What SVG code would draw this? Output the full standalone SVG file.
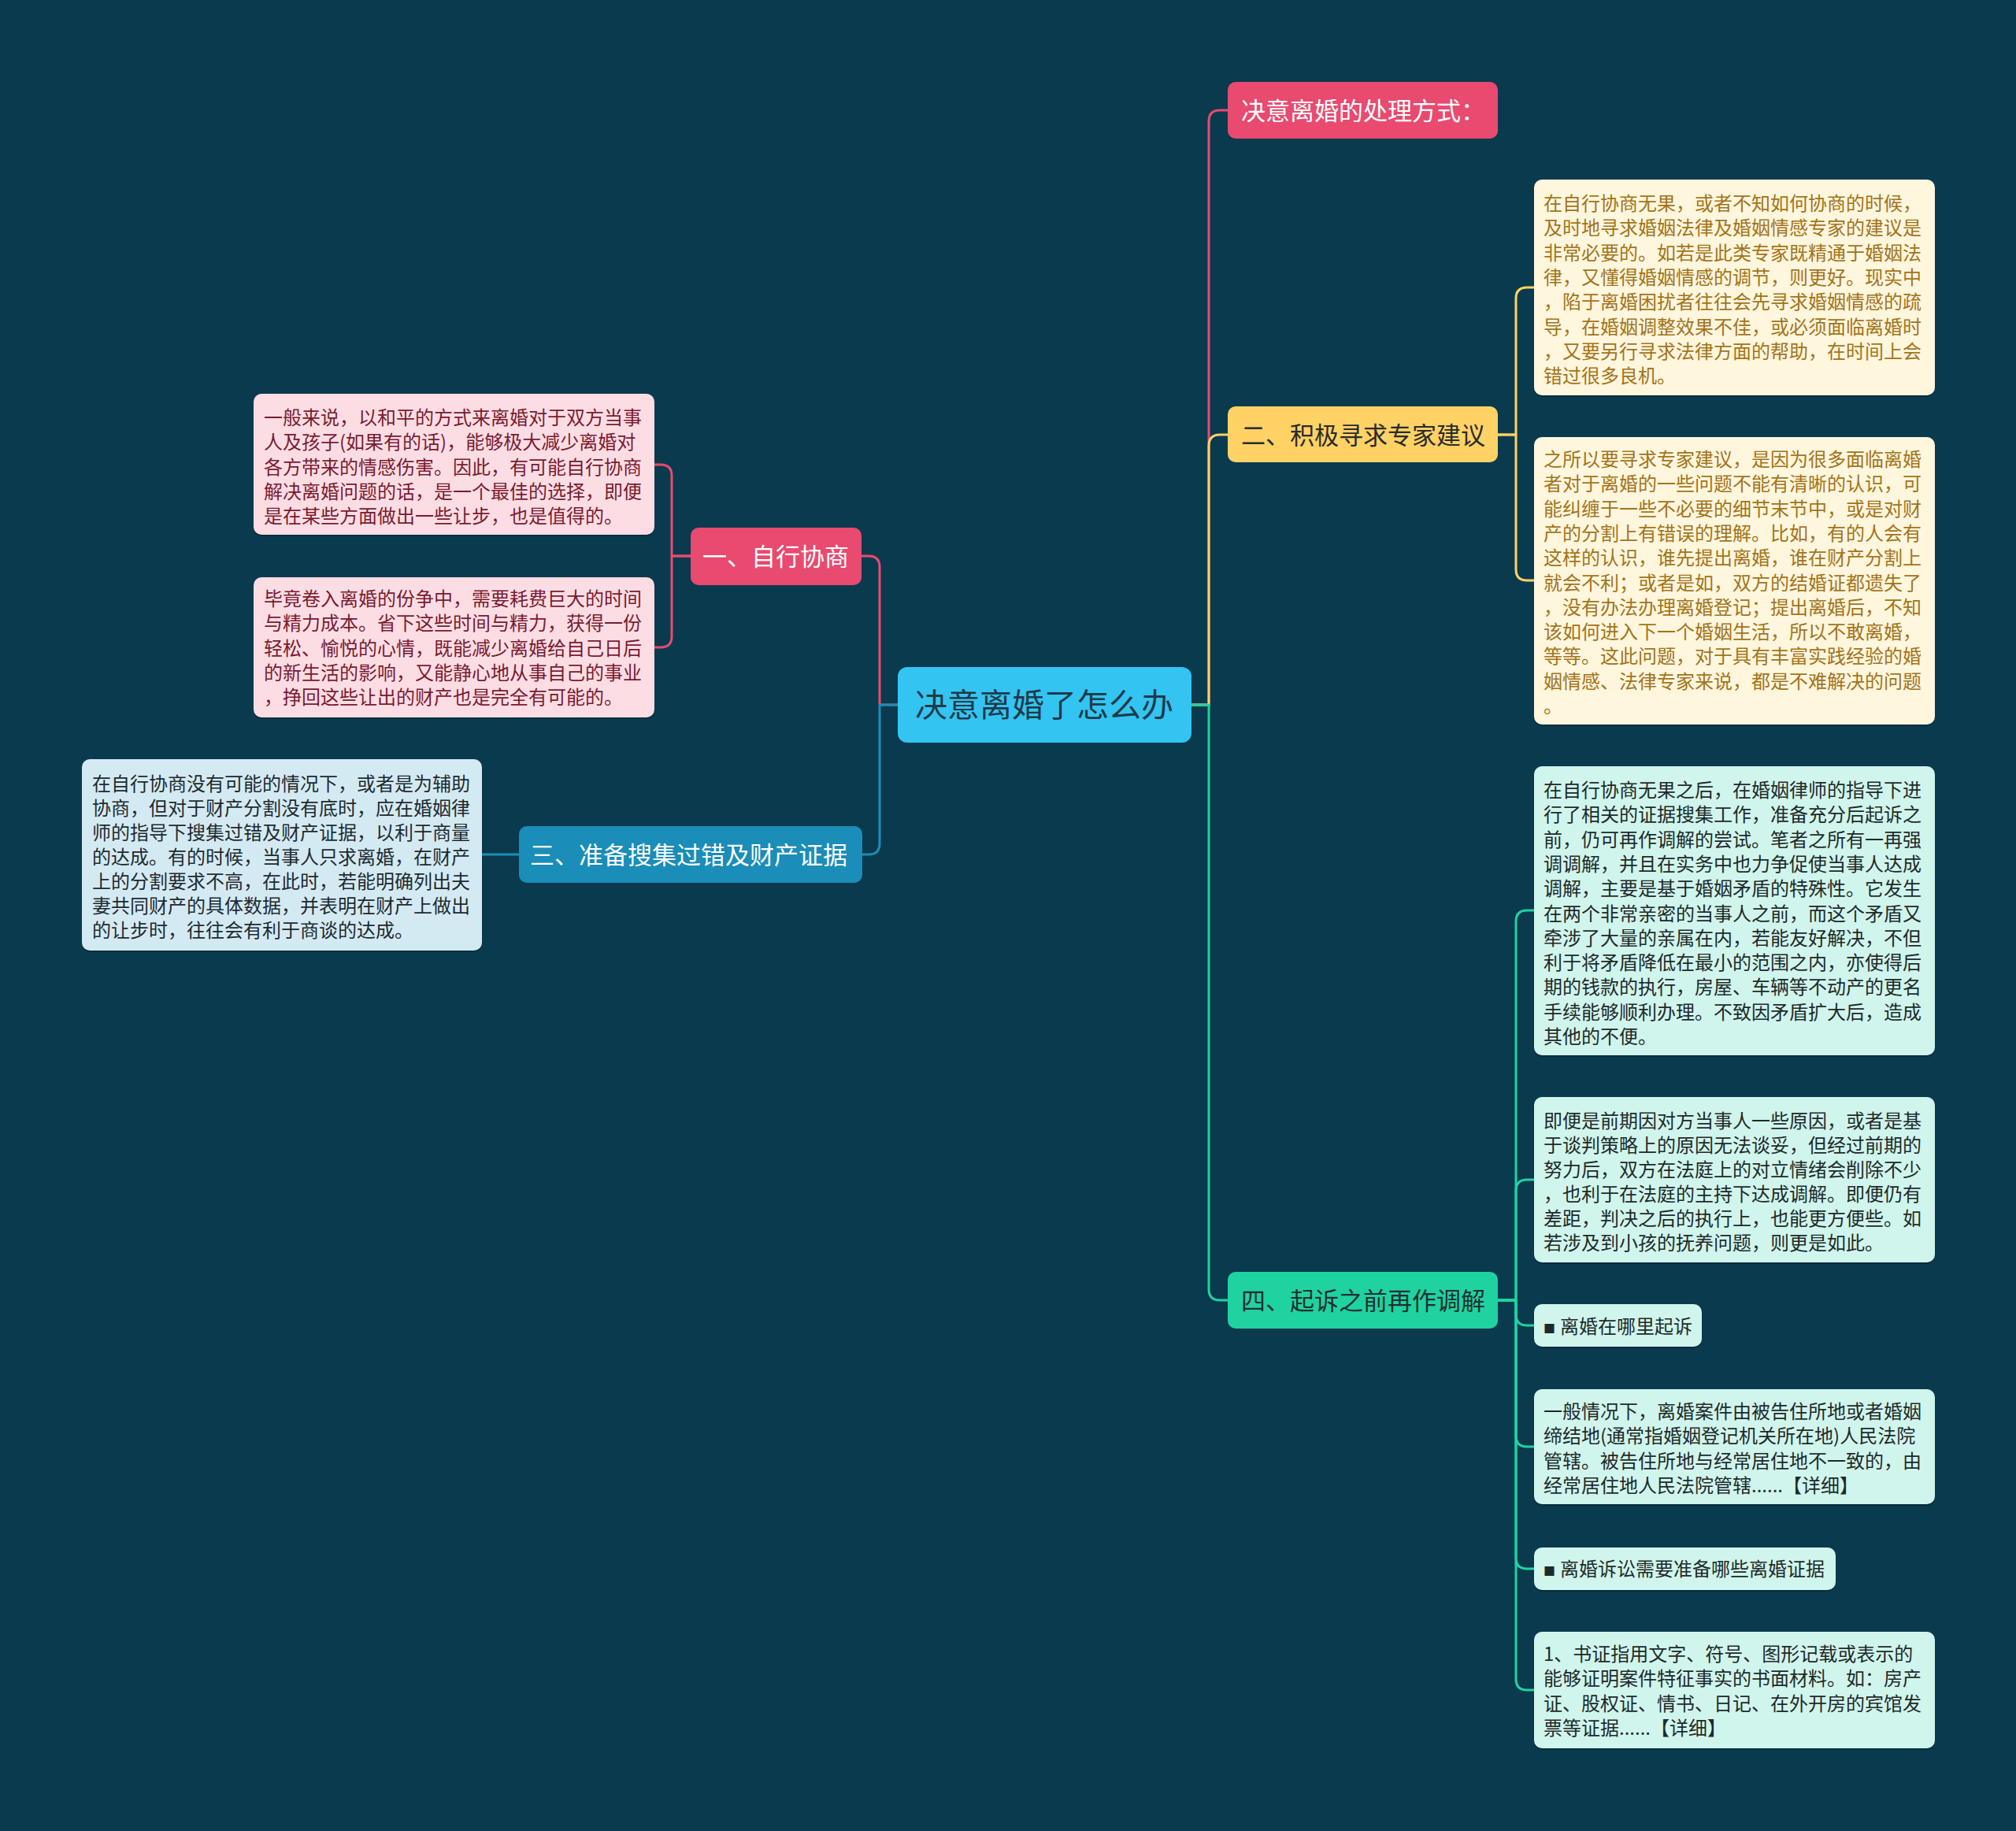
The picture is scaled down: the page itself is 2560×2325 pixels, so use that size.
<svg xmlns="http://www.w3.org/2000/svg" width="2560" height="2325" viewBox="0 0 2560 2325">
<style>
.t{font-family:"Noto Sans CJK SC","Noto Sans",sans-serif}
.d{font-size:24px}
.b{font-size:31px}
.c{fill:none;stroke-width:3;stroke-linejoin:round}
.sh{fill:#000;opacity:0.22}
</style>
<rect x="0" y="0" width="2560" height="2325" fill="#0A3A4E"/>
<g id="connectors">
  <path class="c" stroke="#E94A6F" d="M1513,895 H1535 V154 Q1535,140 1549,140 H1559"/>
  <path class="c" stroke="#FFD265" d="M1513,895 H1535 V566 Q1535,552 1549,552 H1559"/>
  <path class="c" stroke="#1FD3A0" d="M1513,895 H1535 V1637 Q1535,1651 1549,1651 H1559"/>
  <path class="c" stroke="#E94A6F" d="M1140,895 H1117 V720 Q1117,706 1103,706 H1094"/>
  <path class="c" stroke="#1A8DB8" d="M1140,895 H1117 V1071 Q1117,1085 1103,1085 H1095"/>
  <path class="c" stroke="#E94A6F" d="M877,706 H853 V604 Q853,590 839,590 H831"/>
  <path class="c" stroke="#E94A6F" d="M877,706 H853 V808 Q853,822 839,822 H831"/>
  <path class="c" stroke="#1A8DB8" d="M659,1085 H612"/>
  <path class="c" stroke="#FFD265" d="M1902,552 H1925 V379 Q1925,365 1939,365 H1948"/>
  <path class="c" stroke="#FFD265" d="M1902,552 H1925 V723 Q1925,737 1939,737 H1948"/>
  <path class="c" stroke="#1FD3A0" d="M1902,1651 H1925 V1170 Q1925,1156 1939,1156 H1948"/>
  <path class="c" stroke="#1FD3A0" d="M1902,1651 H1925 V1512 Q1925,1498 1939,1498 H1948"/>
  <path class="c" stroke="#1FD3A0" d="M1902,1651 H1925 V1669 Q1925,1683 1939,1683 H1948"/>
  <path class="c" stroke="#1FD3A0" d="M1902,1651 H1925 V1823 Q1925,1837 1939,1837 H1948"/>
  <path class="c" stroke="#1FD3A0" d="M1902,1651 H1925 V1978 Q1925,1992 1939,1992 H1948"/>
  <path class="c" stroke="#1FD3A0" d="M1902,1651 H1925 V2132 Q1925,2146 1939,2146 H1948"/>
</g>
<g id="center">
  <rect x="1140" y="847" width="373" height="96" rx="12" fill="#33C4F2"/>
  <text class="t" x="1162" y="910" font-size="41" fill="#1E3A48">决意离婚了怎么办</text>
</g>
<g id="title">
  <rect x="1559" y="104" width="343" height="72" rx="10" fill="#E94A6F"/>
  <text class="t b" x="1576" y="152" fill="#FFFFFF">决意离婚的处理方式：</text>
</g>
<g id="n2">
  <rect x="1559" y="516" width="343" height="71" rx="10" fill="#FFD265"/>
  <text class="t b" x="1576" y="564" fill="#2A2A2A">二、积极寻求专家建议</text>
</g>
<g id="n4">
  <rect x="1559" y="1615" width="343" height="72" rx="10" fill="#1FD3A0"/>
  <text class="t b" x="1576" y="1663" fill="#1F2F2F">四、起诉之前再作调解</text>
</g>
<g id="n1">
  <rect x="877" y="670" width="217" height="73" rx="10" fill="#E94A6F"/>
  <text class="t b" x="892" y="718" fill="#FFFFFF">一、自行协商</text>
</g>
<g id="n3">
  <rect x="659" y="1049" width="436" height="72" rx="10" fill="#1A8DB8"/>
  <text class="t b" x="673" y="1097" fill="#FFFFFF">三、准备搜集过错及财产证据</text>
</g>
<g id="boxA">
  <rect class="sh" x="1948" y="230" width="509" height="274" rx="10"/>
  <rect x="1948" y="228" width="509" height="274" rx="10" fill="#FEF6DD"/>
  <text class="t d" fill="#A3741A">
    <tspan x="1960" y="267">在自行协商无果，或者不知如何协商的时候，</tspan>
    <tspan x="1960" dy="31.3">及时地寻求婚姻法律及婚姻情感专家的建议是</tspan>
    <tspan x="1960" dy="31.3">非常必要的。如若是此类专家既精通于婚姻法</tspan>
    <tspan x="1960" dy="31.3">律，又懂得婚姻情感的调节，则更好。现实中</tspan>
    <tspan x="1960" dy="31.3">，陷于离婚困扰者往往会先寻求婚姻情感的疏</tspan>
    <tspan x="1960" dy="31.3">导，在婚姻调整效果不佳，或必须面临离婚时</tspan>
    <tspan x="1960" dy="31.3">，又要另行寻求法律方面的帮助，在时间上会</tspan>
    <tspan x="1960" dy="31.3">错过很多良机。</tspan>
  </text>
</g>
<g id="boxB">
  <rect class="sh" x="1948" y="557" width="509" height="365" rx="10"/>
  <rect x="1948" y="555" width="509" height="365" rx="10" fill="#FEF6DD"/>
  <text class="t d" fill="#A3741A">
    <tspan x="1960" y="592">之所以要寻求专家建议，是因为很多面临离婚</tspan>
    <tspan x="1960" dy="31.3">者对于离婚的一些问题不能有清晰的认识，可</tspan>
    <tspan x="1960" dy="31.3">能纠缠于一些不必要的细节末节中，或是对财</tspan>
    <tspan x="1960" dy="31.3">产的分割上有错误的理解。比如，有的人会有</tspan>
    <tspan x="1960" dy="31.3">这样的认识，谁先提出离婚，谁在财产分割上</tspan>
    <tspan x="1960" dy="31.3">就会不利；或者是如，双方的结婚证都遗失了</tspan>
    <tspan x="1960" dy="31.3">，没有办法办理离婚登记；提出离婚后，不知</tspan>
    <tspan x="1960" dy="31.3">该如何进入下一个婚姻生活，所以不敢离婚，</tspan>
    <tspan x="1960" dy="31.3">等等。这此问题，对于具有丰富实践经验的婚</tspan>
    <tspan x="1960" dy="31.3">姻情感、法律专家来说，都是不难解决的问题</tspan>
    <tspan x="1960" dy="31.3">。</tspan>
  </text>
</g>
<g id="boxL1">
  <rect class="sh" x="322" y="502" width="509" height="179" rx="10"/>
  <rect x="322" y="500" width="509" height="179" rx="10" fill="#FDDDE4"/>
  <text class="t d" fill="#7A1B30">
    <tspan x="335" y="539">一般来说，以和平的方式来离婚对于双方当事</tspan>
    <tspan x="335" dy="31.3">人及孩子(如果有的话)，能够极大减少离婚对</tspan>
    <tspan x="335" dy="31.3">各方带来的情感伤害。因此，有可能自行协商</tspan>
    <tspan x="335" dy="31.3">解决离婚问题的话，是一个最佳的选择，即便</tspan>
    <tspan x="335" dy="31.3">是在某些方面做出一些让步，也是值得的。</tspan>
  </text>
</g>
<g id="boxL2">
  <rect class="sh" x="322" y="735" width="509" height="178" rx="10"/>
  <rect x="322" y="733" width="509" height="178" rx="10" fill="#FDDDE4"/>
  <text class="t d" fill="#7A1B30">
    <tspan x="335" y="769">毕竟卷入离婚的份争中，需要耗费巨大的时间</tspan>
    <tspan x="335" dy="31.3">与精力成本。省下这些时间与精力，获得一份</tspan>
    <tspan x="335" dy="31.3">轻松、愉悦的心情，既能减少离婚给自己日后</tspan>
    <tspan x="335" dy="31.3">的新生活的影响，又能静心地从事自己的事业</tspan>
    <tspan x="335" dy="31.3">，挣回这些让出的财产也是完全有可能的。</tspan>
  </text>
</g>
<g id="boxL3">
  <rect class="sh" x="104" y="966" width="508" height="243" rx="10"/>
  <rect x="104" y="964" width="508" height="243" rx="10" fill="#D4EAF3"/>
  <text class="t d" fill="#1E2A30">
    <tspan x="117" y="1004">在自行协商没有可能的情况下，或者是为辅助</tspan>
    <tspan x="117" dy="31">协商，但对于财产分割没有底时，应在婚姻律</tspan>
    <tspan x="117" dy="31">师的指导下搜集过错及财产证据，以利于商量</tspan>
    <tspan x="117" dy="31">的达成。有的时候，当事人只求离婚，在财产</tspan>
    <tspan x="117" dy="31">上的分割要求不高，在此时，若能明确列出夫</tspan>
    <tspan x="117" dy="31">妻共同财产的具体数据，并表明在财产上做出</tspan>
    <tspan x="117" dy="31">的让步时，往往会有利于商谈的达成。</tspan>
  </text>
</g>
<g id="boxC">
  <rect class="sh" x="1948" y="975" width="509" height="367" rx="10"/>
  <rect x="1948" y="973" width="509" height="367" rx="10" fill="#D0F5EC"/>
  <text class="t d" fill="#1E2A2A">
    <tspan x="1960" y="1012">在自行协商无果之后，在婚姻律师的指导下进</tspan>
    <tspan x="1960" dy="31.3">行了相关的证据搜集工作，准备充分后起诉之</tspan>
    <tspan x="1960" dy="31.3">前，仍可再作调解的尝试。笔者之所有一再强</tspan>
    <tspan x="1960" dy="31.3">调调解，并且在实务中也力争促使当事人达成</tspan>
    <tspan x="1960" dy="31.3">调解，主要是基于婚姻矛盾的特殊性。它发生</tspan>
    <tspan x="1960" dy="31.3">在两个非常亲密的当事人之前，而这个矛盾又</tspan>
    <tspan x="1960" dy="31.3">牵涉了大量的亲属在内，若能友好解决，不但</tspan>
    <tspan x="1960" dy="31.3">利于将矛盾降低在最小的范围之内，亦使得后</tspan>
    <tspan x="1960" dy="31.3">期的钱款的执行，房屋、车辆等不动产的更名</tspan>
    <tspan x="1960" dy="31.3">手续能够顺利办理。不致因矛盾扩大后，造成</tspan>
    <tspan x="1960" dy="31.3">其他的不便。</tspan>
  </text>
</g>
<g id="boxD">
  <rect class="sh" x="1948" y="1395" width="509" height="210" rx="10"/>
  <rect x="1948" y="1393" width="509" height="210" rx="10" fill="#D0F5EC"/>
  <text class="t d" fill="#1E2A2A">
    <tspan x="1960" y="1432">即便是前期因对方当事人一些原因，或者是基</tspan>
    <tspan x="1960" dy="31">于谈判策略上的原因无法谈妥，但经过前期的</tspan>
    <tspan x="1960" dy="31">努力后，双方在法庭上的对立情绪会削除不少</tspan>
    <tspan x="1960" dy="31">，也利于在法庭的主持下达成调解。即便仍有</tspan>
    <tspan x="1960" dy="31">差距，判决之后的执行上，也能更方便些。如</tspan>
    <tspan x="1960" dy="31">若涉及到小孩的抚养问题，则更是如此。</tspan>
  </text>
</g>
<g id="boxE">
  <rect class="sh" x="1948" y="1658" width="213" height="54" rx="10"/>
  <rect x="1948" y="1656" width="213" height="54" rx="10" fill="#D0F5EC"/>
  <text class="t d" y="1693" fill="#1E2A2A"><tspan x="1960" font-size="15">■</tspan><tspan x="1981">离婚在哪里起诉</tspan></text>
</g>
<g id="boxF">
  <rect class="sh" x="1948" y="1766" width="509" height="146" rx="10"/>
  <rect x="1948" y="1764" width="509" height="146" rx="10" fill="#D0F5EC"/>
  <text class="t d" fill="#1E2A2A">
    <tspan x="1960" y="1801">一般情况下，离婚案件由被告住所地或者婚姻</tspan>
    <tspan x="1960" dy="31.3">缔结地(通常指婚姻登记机关所在地)人民法院</tspan>
    <tspan x="1960" dy="31.3">管辖。被告住所地与经常居住地不一致的，由</tspan>
    <tspan x="1960" dy="31.3">经常居住地人民法院管辖......【详细】</tspan>
  </text>
</g>
<g id="boxG">
  <rect class="sh" x="1948" y="1967" width="383" height="54" rx="10"/>
  <rect x="1948" y="1965" width="383" height="54" rx="10" fill="#D0F5EC"/>
  <text class="t d" y="2001" fill="#1E2A2A"><tspan x="1960" font-size="15">■</tspan><tspan x="1981">离婚诉讼需要准备哪些离婚证据</tspan></text>
</g>
<g id="boxH">
  <rect class="sh" x="1948" y="2074" width="509" height="148" rx="10"/>
  <rect x="1948" y="2072" width="509" height="148" rx="10" fill="#D0F5EC"/>
  <text class="t d" fill="#1E2A2A">
    <tspan x="1960" y="2109">1、书证指用文字、符号、图形记载或表示的</tspan>
    <tspan x="1960" dy="31.3">能够证明案件特征事实的书面材料。如：房产</tspan>
    <tspan x="1960" dy="31.3">证、股权证、情书、日记、在外开房的宾馆发</tspan>
    <tspan x="1960" dy="31.3">票等证据......【详细】</tspan>
  </text>
</g>
</svg>
